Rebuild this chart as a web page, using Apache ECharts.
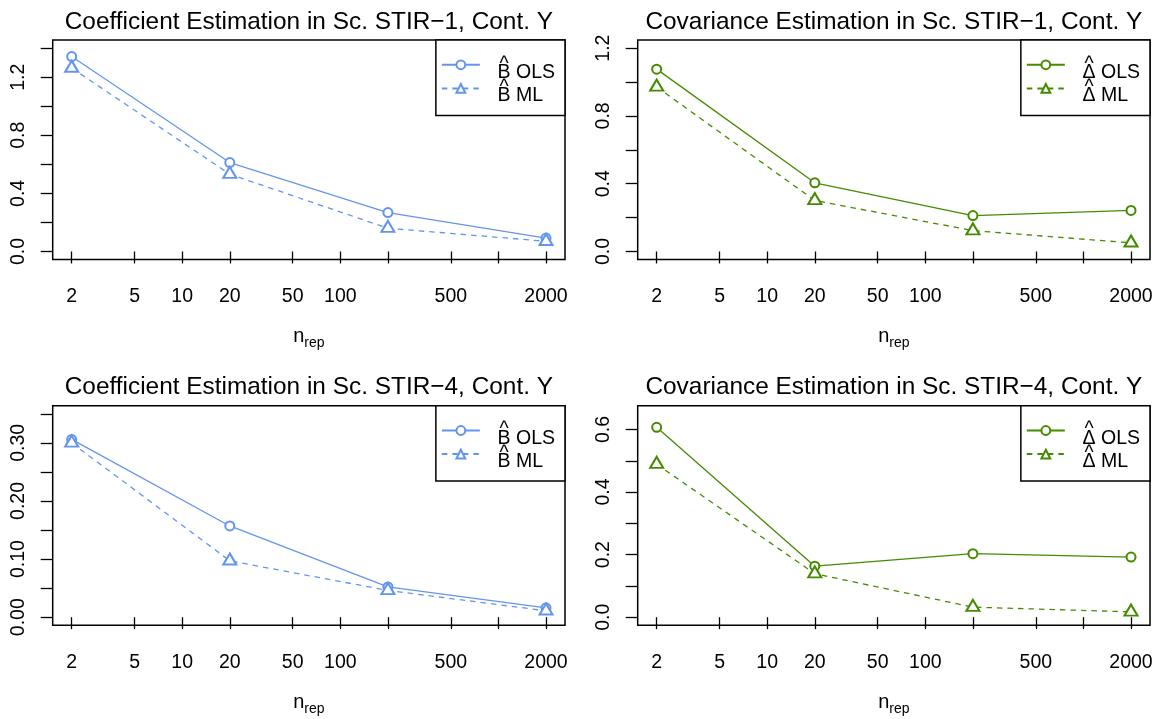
<!DOCTYPE html>
<html>
<head>
<meta charset="utf-8">
<script src="https://cdn.jsdelivr.net/npm/echarts@6/dist/echarts.min.js"></script>
<style>
  html, body { margin: 0; padding: 0; background: #fff; }
  #main { width: 1160px; height: 719px; }
</style>
</head>
<body>
<div id="main"></div>
<script>
// x values (number of replications) and axis ticks
var nrep = [2, 20, 200, 2000];
var xTicks = [2, 5, 10, 20, 50, 100, 200, 500, 1000, 2000];
var xLabels = [2, 5, 10, 20, 50, 100, 500, 2000];

// STIR-1 coefficient / covariance errors
var coef1Ols = [1.342, 0.612, 0.268, 0.092];
var coef1Ml = [1.263, 0.532, 0.160, 0.070];
var cov1Ols = [1.076, 0.405, 0.212, 0.242];
var cov1Ml = [0.971, 0.301, 0.123, 0.051];
// STIR-4
var coef4Ols = [0.306, 0.157, 0.052, 0.016];
var coef4Ml = [0.300, 0.097, 0.046, 0.011];
var cov4Ols = [0.607, 0.163, 0.203, 0.192];
var cov4Ml = [0.489, 0.139, 0.032, 0.017];

// y ticks per panel
var yTicks1 = [0, 0.2, 0.4, 0.6, 0.8, 1.0, 1.2, 1.4];
var yLabels1 = [0, 0.4, 0.8, 1.2];
var yTicks2 = [0, 0.2, 0.4, 0.6, 0.8, 1.0, 1.2];
var yLabels2 = [0, 0.4, 0.8, 1.2];
var yTicks3 = [0, 0.05, 0.10, 0.15, 0.20, 0.25, 0.30, 0.35];
var yLabels3 = [0, 0.10, 0.20, 0.30];
var yTicks4 = [0, 0.1, 0.2, 0.3, 0.4, 0.5, 0.6];
var yLabels4 = [0, 0.2, 0.4, 0.6];

var titles = [
  'Coefficient Estimation in Sc. STIR\u22121, Cont. Y',
  'Covariance Estimation in Sc. STIR\u22121, Cont. Y',
  'Coefficient Estimation in Sc. STIR\u22124, Cont. Y',
  'Covariance Estimation in Sc. STIR\u22124, Cont. Y'
];

var BLUE = '#6495ED';
var GREEN = '#458B00';
var FONT = '"Liberation Sans", Arial, Helvetica, sans-serif';

// panel layout (plot box in px)
var panels = [
  { left: 52.7, top: 40, ylim: [0, 1.4], yTicks: yTicks1, yLabels: yLabels1, dec: 1, ols: coef1Ols, ml: coef1Ml, color: BLUE, sym: 'B' },
  { left: 637.7, top: 40, ylim: [0, 1.2], yTicks: yTicks2, yLabels: yLabels2, dec: 1, ols: cov1Ols, ml: cov1Ml, color: GREEN, sym: '\u0394' },
  { left: 52.7, top: 405.7, ylim: [0, 0.35], yTicks: yTicks3, yLabels: yLabels3, dec: 2, ols: coef4Ols, ml: coef4Ml, color: BLUE, sym: 'B' },
  { left: 637.7, top: 405.7, ylim: [0, 0.65], yTicks: yTicks4, yLabels: yLabels4, dec: 1, ols: cov4Ols, ml: cov4Ml, color: GREEN, sym: '\u0394' }
];
var boxW = 512.3, boxH = 219.6;

// R style 4% axis extension
function ext(a, b, log) {
  if (log) {
    var la = Math.log10(a), lb = Math.log10(b), d = (lb - la) * 0.04;
    return [Math.pow(10, la - d), Math.pow(10, lb + d)];
  }
  var e = (b - a) * 0.04;
  return [a - e, b + e];
}
var xr = ext(nrep[0], nrep[nrep.length - 1], true);

function pairs(xs, ys) {
  return xs.map(function (x, i) { return [x, ys[i]]; });
}

var grids = [], xAxes = [], yAxes = [], series = [], legends = [], graphics = [];
var legendText = {};

panels.forEach(function (p, i) {
  grids.push({
    left: p.left, top: p.top, width: boxW, height: boxH,
    show: true, borderColor: '#000', borderWidth: 1.5,
    outerBoundsMode: 'none'
  });
  xAxes.push({
    type: 'log', logBase: 10, gridIndex: i, min: xr[0], max: xr[1],
    axisLine: { show: false }, splitLine: { show: false }, minorTick: { show: false },
    axisTick: { length: 12, customValues: xTicks, lineStyle: { color: '#000', width: 1.3 } },
    axisLabel: {
      customValues: xLabels, margin: 27, fontSize: 19.5, color: '#000', fontFamily: FONT,
      formatter: function (v) { return String(Math.round(v)); }
    },
    name: '{n|n}{s|rep}', nameLocation: 'middle', nameGap: 67,
    nameTextStyle: {
      rich: {
        n: { fontSize: 20, fontFamily: FONT, color: '#000', lineHeight: 24, verticalAlign: 'top' },
        s: { fontSize: 14, fontFamily: FONT, color: '#000', lineHeight: 10, verticalAlign: 'bottom' }
      }
    }
  });
  var yr = ext(p.ylim[0], p.ylim[1], false);
  yAxes.push({
    type: 'value', gridIndex: i, min: yr[0], max: yr[1],
    axisLine: { show: false }, splitLine: { show: false },
    axisTick: { length: 12, customValues: p.yTicks, lineStyle: { color: '#000', width: 1.3 } },
    axisLabel: {
      customValues: p.yLabels, rotate: 90, margin: 24, fontSize: 19.5, color: '#000', fontFamily: FONT,
      formatter: (function (d) { return function (v) { return v.toFixed(d); }; })(p.dec)
    }
  });
  var nOls = 'p' + i + '_ols', nMl = 'p' + i + '_ml';
  legendText[nOls] = '{h|^}\n{t|' + p.sym + ' OLS}';
  legendText[nMl] = '{h|^}\n{t|' + p.sym + ' ML}';
  series.push({
    type: 'line', name: nOls, xAxisIndex: i, yAxisIndex: i,
    data: pairs(nrep, p.ols),
    symbol: 'emptyCircle', symbolSize: 9,
    lineStyle: { color: p.color, width: 1.3, type: 'solid' },
    itemStyle: { color: p.color, borderColor: p.color, borderWidth: 1.3 },
    silent: true, animation: false
  });
  series.push({
    type: 'line', name: nMl, xAxisIndex: i, yAxisIndex: i,
    data: pairs(nrep, p.ml),
    symbol: 'emptyTriangle', symbolSize: [13, 11], symbolOffset: [0, -1.8],
    lineStyle: { color: p.color, width: 1.3, type: [5.5, 5] },
    itemStyle: { color: p.color, borderColor: p.color, borderWidth: 1.3 },
    silent: true, animation: false
  });
  legends.push({
    orient: 'vertical', right: 1160 - (p.left + boxW), top: p.top,
    itemWidth: 38, itemHeight: 11, itemGap: -4.5,
    padding: [14.4, 10, 9.3, 5],
    borderColor: '#000', borderWidth: 1.5, backgroundColor: '#fff',
    data: [nOls, nMl], selectedMode: false,
    formatter: function (name) { return legendText[name]; },
    textStyle: {
      fontSize: 2, lineHeight: 1,
      rich: {
        h: { fontSize: 19.5, fontFamily: FONT, color: '#000', lineHeight: 15.4, padding: [0, 0, 0, 14.7] },
        t: { fontSize: 19.5, fontFamily: FONT, color: '#000', lineHeight: 0.8, padding: [0, 0, 0, 12.7] }
      }
    }
  });
  graphics.push({
    type: 'text', x: p.left + boxW / 2, y: p.top - 18,
    style: {
      text: titles[i], fill: '#000', font: '24.4px ' + FONT,
      align: 'center', verticalAlign: 'middle', textAlign: 'center', textVerticalAlign: 'middle'
    }
  });
});

var chart = echarts.init(document.getElementById('main'), null, { renderer: 'canvas' });
chart.setOption({
  animation: false,
  backgroundColor: '#fff',
  grid: grids,
  xAxis: xAxes,
  yAxis: yAxes,
  legend: legends,
  series: series,
  graphic: graphics
});
</script>
</body>
</html>
